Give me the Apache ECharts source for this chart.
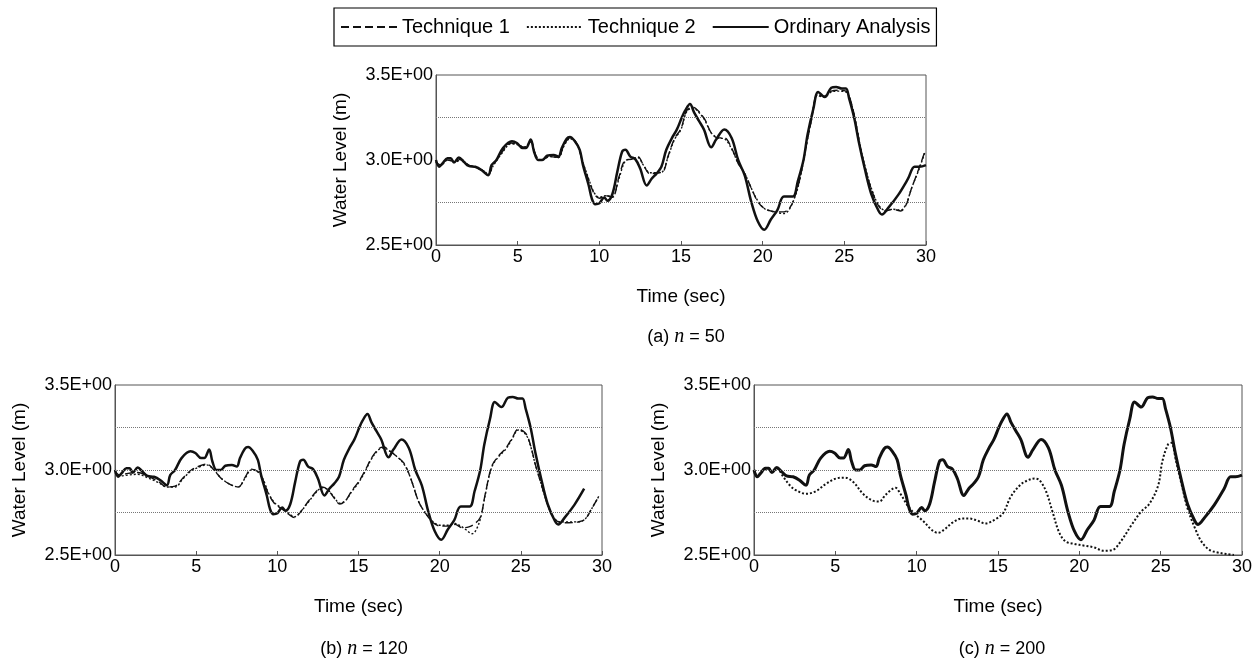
<!DOCTYPE html>
<html>
<head>
<meta charset="utf-8">
<title>Water Level</title>
<script src="https://cdn.jsdelivr.net/npm/echarts@6/dist/echarts.min.js"></script>
<style>
  html, body { margin: 0; padding: 0; background: #fff; }
  #chart { width: 1257px; height: 661px; }
</style>
</head>
<body>
<div id="chart"></div>
<script>
// ---- data: [time (sec), water level (m)] ----
const seriesNames = ['Technique 1', 'Technique 2', 'Ordinary Analysis'];
const xTicks = [0, 5, 10, 15, 20, 25, 30];
const yTicks = [2.5, 3.0, 3.5];
const captions = ['(a) {n|n} = 50', '(b) {n|n} = 120', '(c) {n|n} = 200'];

const ordinary = [
  [0,3.0],[0.2,2.96],[0.4,2.98],[0.7,3.01],[0.9,3.01],[1.1,2.985],[1.4,3.015],[1.7,2.99],
  [2.0,2.965],[2.4,2.96],[2.8,2.94],[3.2,2.91],[3.4,2.97],[3.7,3.0],[4.1,3.07],[4.65,3.11],
  [4.95,3.1],[5.3,3.07],[5.5,3.07],[5.8,3.12],[6.0,3.05],[6.25,3.0],[6.5,3.0],[6.8,3.025],
  [7.2,3.03],[7.5,3.02],[7.7,3.07],[8.0,3.125],[8.2,3.135],[8.5,3.11],[8.8,3.06],[9.0,2.97],
  [9.35,2.85],[9.55,2.77],[9.75,2.74],[10.0,2.745],[10.3,2.78],[10.5,2.76],[10.8,2.8],[11.1,2.93],
  [11.4,3.05],[11.6,3.06],[11.9,3.02],[12.2,3.005],[12.5,2.95],[12.9,2.85],[13.2,2.89],[13.5,2.92],
  [13.8,2.96],[14.1,3.06],[14.45,3.13],[14.75,3.18],[15.05,3.25],[15.25,3.29],[15.55,3.33],[15.8,3.28],
  [16.1,3.23],[16.4,3.18],[16.85,3.075],[17.15,3.12],[17.65,3.18],[18.1,3.13],[18.5,3.0],[18.9,2.91],
  [19.3,2.755],[19.7,2.64],[20.1,2.59],[20.5,2.65],[20.9,2.705],[21.3,2.785],[21.85,2.785],[22.15,2.875],
  [22.5,3.0],[22.75,3.15],[23.1,3.3],[23.4,3.4],[23.8,3.37],[24.2,3.425],[24.5,3.43],[24.85,3.42],
  [25.1,3.42],[25.3,3.36],[25.6,3.25],[25.9,3.1],[26.25,2.95],[26.65,2.8],[27.1,2.7],[27.3,2.68],
  [27.7,2.72],[28.3,2.795],[28.9,2.89],[29.3,2.96],[29.6,2.96],[30.0,2.97]
];
// the n = 120 run of the ordinary analysis stops before 30 s
const ordinaryEndB = 28.9;

const techOneA = [
  [0,2.99],[0.3,2.97],[0.7,3.0],[1.2,2.99],[1.5,3.005],[2.0,2.97],[2.5,2.955],[3.0,2.93],
  [3.2,2.915],[3.5,2.97],[4.0,3.04],[4.6,3.1],[5.0,3.09],[5.4,3.075],[5.8,3.11],[6.1,3.03],
  [6.4,3.0],[7.0,3.02],[7.5,3.015],[7.8,3.08],[8.2,3.13],[8.6,3.1],[9.0,2.98],[9.4,2.87],
  [9.7,2.8],[10.0,2.775],[10.4,2.79],[10.8,2.78],[11.2,2.9],[11.6,3.0],[12.0,3.005],[12.35,3.02],
  [12.7,2.97],[13.1,2.92],[13.6,2.925],[13.9,2.93],[14.2,3.02],[14.6,3.125],[15.0,3.185],[15.35,3.29],
  [15.75,3.31],[16.05,3.29],[16.45,3.24],[16.85,3.16],[17.25,3.13],[17.65,3.13],[18.1,3.07],[18.5,2.98],
  [18.9,2.92],[19.3,2.835],[19.7,2.755],[20.1,2.715],[20.5,2.7],[20.9,2.695],[21.3,2.695],[21.7,2.725],
  [22.0,2.795],[22.3,2.9],[22.7,3.1],[23.0,3.24],[23.35,3.385],[23.75,3.375],[24.2,3.405],[24.6,3.41],
  [25.1,3.405],[25.4,3.345],[25.7,3.22],[26.0,3.065],[26.3,2.945],[26.65,2.83],[27.1,2.73],[27.5,2.7],
  [28.0,2.71],[28.45,2.7],[28.8,2.74],[29.1,2.83],[29.55,2.945],[29.95,3.055]
];
const techTwoA = [
  [0,2.99],[0.3,2.97],[0.7,3.0],[1.2,2.99],[1.5,3.0],[2.0,2.97],[2.5,2.955],[3.0,2.93],
  [3.2,2.915],[3.5,2.965],[4.0,3.035],[4.6,3.095],[5.0,3.09],[5.4,3.075],[5.8,3.105],[6.1,3.03],
  [6.4,3.0],[7.0,3.02],[7.5,3.015],[7.8,3.075],[8.2,3.125],[8.6,3.1],[9.0,2.985],[9.4,2.875],
  [9.7,2.805],[10.0,2.78],[10.4,2.79],[10.8,2.785],[11.2,2.89],[11.6,2.995],[12.0,3.005],[12.35,3.015],
  [12.7,2.97],[13.1,2.925],[13.6,2.925],[13.9,2.935],[14.2,3.015],[14.6,3.12],[15.0,3.18],[15.35,3.285],
  [15.75,3.305],[16.05,3.285],[16.45,3.235],[16.85,3.16],[17.25,3.13],[17.65,3.125],[18.1,3.065],[18.5,2.98],
  [18.9,2.92],[19.3,2.835],[19.7,2.76],[20.1,2.715],[20.5,2.7],[20.9,2.69],[21.3,2.685],[21.6,2.705],
  [22.0,2.79],[22.3,2.895],[22.7,3.1],[23.0,3.24],[23.35,3.38],[23.75,3.37],[24.2,3.4],[24.6,3.405],
  [25.1,3.4],[25.4,3.34],[25.7,3.22],[26.0,3.07],[26.3,2.95],[26.65,2.835],[27.1,2.735],[27.5,2.705],
  [28.0,2.71],[28.45,2.705],[28.8,2.745],[29.1,2.83],[29.55,2.94],[29.95,3.05]
];

const techOneB = [
  [0,2.995],[0.3,2.97],[0.8,2.98],[1.4,2.985],[2.0,2.965],[2.7,2.93],[3.2,2.9],[3.7,2.905],
  [4.2,2.955],[4.7,3.0],[5.25,3.025],[5.65,3.035],[6.1,3.0],[6.5,2.955],[7.0,2.92],[7.6,2.9],
  [8.0,2.955],[8.4,3.005],[8.8,2.99],[9.15,2.935],[9.45,2.86],[9.85,2.8],[10.3,2.77],[10.7,2.74],
  [11.05,2.72],[11.4,2.75],[11.9,2.815],[12.5,2.885],[12.75,2.9],[13.1,2.885],[13.5,2.835],[13.85,2.8],
  [14.2,2.82],[14.6,2.88],[15.0,2.93],[15.4,2.995],[15.8,3.07],[16.25,3.125],[16.55,3.135],[16.95,3.11],
  [17.35,3.08],[17.8,3.04],[18.2,2.955],[18.7,2.815],[19.1,2.75],[19.6,2.69],[20.05,2.67],[20.55,2.67],
  [20.95,2.68],[21.4,2.66],[21.8,2.665],[22.1,2.68],[22.5,2.72],[22.8,2.855],[23.2,3.02],[23.6,3.08],
  [24.05,3.125],[24.45,3.185],[24.85,3.24],[25.3,3.215],[25.6,3.145],[25.9,3.03],[26.2,2.935],[26.5,2.84],
  [26.8,2.76],[27.1,2.71],[27.45,2.69],[27.95,2.69],[28.55,2.695],[28.95,2.71],[29.35,2.77],[29.8,2.845]
];
const techTwoB = [
  [0,2.985],[0.3,2.965],[0.8,2.97],[1.4,2.975],[2.0,2.955],[2.7,2.925],[3.2,2.9],[3.7,2.9],
  [4.2,2.95],[4.7,2.995],[5.25,3.02],[5.65,3.03],[6.1,3.0],[6.5,2.955],[7.0,2.92],[7.6,2.9],
  [8.0,2.95],[8.4,3.0],[8.8,2.99],[9.15,2.94],[9.45,2.865],[9.85,2.805],[10.3,2.775],[10.7,2.745],
  [11.05,2.725],[11.4,2.75],[11.9,2.81],[12.5,2.88],[12.75,2.895],[13.1,2.885],[13.5,2.84],[13.85,2.805],
  [14.2,2.82],[14.6,2.875],[15.0,2.925],[15.4,2.99],[15.8,3.065],[16.25,3.12],[16.55,3.13],[16.95,3.11],
  [17.35,3.08],[17.8,3.035],[18.2,2.955],[18.7,2.815],[19.1,2.75],[19.6,2.695],[20.05,2.675],[20.55,2.675],
  [20.95,2.685],[21.3,2.67],[21.6,2.65],[22.0,2.625],[22.2,2.64],[22.5,2.71],[22.8,2.85],[23.2,3.015],
  [23.6,3.075],[24.05,3.12],[24.45,3.18],[24.85,3.235],[25.3,3.21],[25.6,3.14],[25.9,3.03],[26.2,2.935],
  [26.5,2.84],[26.8,2.76],[27.1,2.71],[27.45,2.695],[27.95,2.695],[28.55,2.695],[28.95,2.71],[29.35,2.77],
  [29.8,2.845]
];

// at n = 200, Technique 1 runs on top of the ordinary analysis
const techOneC = ordinary;
const techTwoC = [
  [0,3.0],[0.2,2.965],[0.4,2.98],[0.7,3.005],[0.9,3.01],[1.1,2.99],[1.4,3.01],[1.8,2.96],
  [2.2,2.91],[2.6,2.88],[3.2,2.86],[3.8,2.875],[4.45,2.92],[5.05,2.95],[5.6,2.955],[6.1,2.93],
  [6.7,2.86],[7.3,2.82],[7.7,2.815],[8.1,2.855],[8.7,2.895],[9.0,2.86],[9.45,2.79],[9.85,2.745],
  [10.4,2.7],[10.9,2.65],[11.3,2.63],[11.7,2.65],[12.2,2.69],[12.8,2.715],[13.2,2.715],[13.8,2.7],
  [14.2,2.685],[14.75,2.705],[15.3,2.745],[15.8,2.845],[16.4,2.915],[16.85,2.94],[17.25,2.95],[17.55,2.94],
  [17.95,2.875],[18.35,2.755],[18.75,2.635],[19.15,2.58],[19.7,2.565],[20.3,2.555],[20.9,2.545],[21.5,2.525],
  [22.05,2.53],[22.55,2.58],[23.2,2.675],[23.8,2.755],[24.3,2.8],[24.85,2.91],[25.1,3.05],[25.45,3.15],
  [25.65,3.16],[25.95,3.05],[26.25,2.93],[26.65,2.775],[27.1,2.66],[27.5,2.58],[28.0,2.53],[28.5,2.515],
  [29.1,2.505],[29.5,2.5]
];

// reference levels drawn as thin dotted lines in each panel
const refLevelsA = [3.25, 2.75];
const refLevelsBC = [3.25, 3.0, 2.75];

// ---- layout ----
const panels = [
  { left: 436, top: 75, width: 490, height: 170, cap: [681, 333], t1: techOneA, t2: techTwoA,
    ord: ordinary, refs: refLevelsA },
  { left: 115, top: 385, width: 487, height: 170, cap: [359, 645], t1: techOneB, t2: techTwoB,
    ord: ordinary.filter(p => p[0] <= ordinaryEndB), refs: refLevelsBC },
  { left: 754, top: 385, width: 488, height: 170, cap: [997, 645], t1: techOneC, t2: techTwoC,
    ord: ordinary, refs: refLevelsBC }
];

const FONT = 'Liberation Sans, Arial, sans-serif';
const INK = '#111';

const grids = [], xAxes = [], yAxes = [], series = [], titles = [];

panels.forEach((p, i) => {
  grids.push({
    left: p.left, top: p.top, width: p.width, height: p.height,
    show: true, borderColor: '#555', borderWidth: 1, backgroundColor: 'transparent'
  });
  xAxes.push({
    type: 'value', gridIndex: i, min: xTicks[0], max: xTicks[xTicks.length - 1], interval: 5,
    name: 'Time (sec)', nameLocation: 'middle', nameGap: 42,
    nameTextStyle: { fontFamily: FONT, fontSize: 19, color: '#000' },
    axisLine: { show: true, onZero: false, lineStyle: { color: '#555', width: 1 } },
    axisTick: { show: true, inside: true, length: 4, lineStyle: { color: '#555' } },
    axisLabel: { fontFamily: FONT, fontSize: 18, color: '#000', margin: 3 },
    splitLine: { show: false }
  });
  yAxes.push({
    type: 'value', gridIndex: i, min: yTicks[0], max: yTicks[yTicks.length - 1], interval: 0.5,
    name: 'Water Level (m)', nameLocation: 'middle', nameGap: 86,
    nameTextStyle: { fontFamily: FONT, fontSize: 19, color: '#000' },
    axisLine: { show: true, lineStyle: { color: '#555', width: 1 } },
    axisTick: { show: false },
    axisLabel: { fontFamily: FONT, fontSize: 18, color: '#000', margin: 3,
      formatter: v => v.toFixed(1) + 'E+00' },
    splitLine: { show: false }
  });

  const common = { xAxisIndex: i, yAxisIndex: i, showSymbol: false, symbol: 'none',
    smooth: 0.35, animation: false };
  series.push(Object.assign({}, common, {
    name: seriesNames[0], type: 'line', data: p.t1, z: 3,
    lineStyle: { color: INK, width: 1.4, type: [8, 4] },
    itemStyle: { color: INK }
  }));
  series.push(Object.assign({}, common, {
    name: seriesNames[1], type: 'line', data: p.t2, z: 3,
    lineStyle: { color: INK, width: i === 2 ? 2 : 1.4, type: [2, 2] },
    itemStyle: { color: INK },
    markLine: {
      silent: true, symbol: 'none', animation: false,
      label: { show: false },
      lineStyle: { color: '#777', width: 1, type: [1, 1] },
      data: p.refs.map(v => ({ yAxis: v }))
    }
  }));
  series.push(Object.assign({}, common, {
    name: seriesNames[2], type: 'line', data: p.ord, z: 4,
    lineStyle: { color: INK, width: i === 2 ? 3 : 2.5, type: 'solid' },
    itemStyle: { color: INK }
  }));

  titles.push({
    text: captions[i], left: p.cap[0], top: p.cap[1] - 11, textAlign: 'center',
    textStyle: {
      fontFamily: FONT, fontSize: 18, fontWeight: 'normal', color: '#000',
      rich: { n: { fontFamily: 'Liberation Serif, Times New Roman, serif', fontStyle: 'italic',
        fontSize: 20, color: '#000' } }
    }
  });
});

const chart = echarts.init(document.getElementById('chart'), null, { renderer: 'canvas' });
chart.setOption({
  backgroundColor: '#fff',
  animation: false,
  title: titles,
  legend: {
    data: seriesNames, top: 8, left: 334,
    itemWidth: 56, itemHeight: 14, itemGap: 16,
    padding: [9, 6, 9, 6],
    borderColor: '#000', borderWidth: 1.2,
    itemStyle: { opacity: 0 },
    textStyle: { fontFamily: FONT, fontSize: 20, color: '#000' }
  },
  grid: grids,
  xAxis: xAxes,
  yAxis: yAxes,
  series: series
});
</script>
</body>
</html>
